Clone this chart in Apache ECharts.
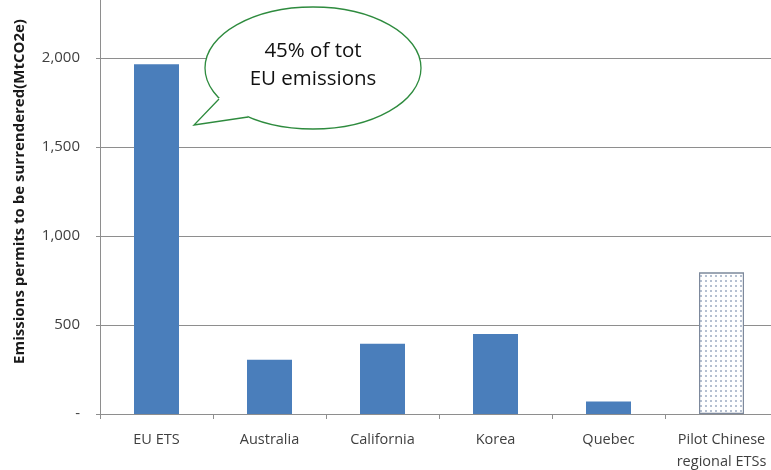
<!DOCTYPE html>
<html>
<head>
<meta charset="utf-8">
<script src="https://cdn.jsdelivr.net/npm/echarts@6/dist/echarts.min.js"></script>
<style>
html,body{margin:0;padding:0;background:#fff;}
#chart{width:771px;height:470px;}
</style>
</head>
<body>
<div id="chart"></div>
<script>
const categories = ['EU ETS', 'Australia', 'California', 'Korea', 'Quebec', 'Pilot Chinese\nregional ETSs'];
const permits = [1965, 305, 395, 450, 70, 795];
const yTicks = [0, 500, 1000, 1500, 2000, 2500];
const yAxisName = 'Emissions permits to be surrendered(MtCO2e)';
const calloutText = '45% of tot\nEU emissions';

const FONT = '"Open Sans", "Liberation Sans", sans-serif';
const GRID_COLOR = '#8e8e8e';
const TEXT_COLOR = '#3f3f3f';

const barData = permits.map((v, i) => {
  if (i === permits.length - 1) {
    return {
      value: v,
      itemStyle: {
        color: '#ffffff',
        borderColor: '#7d899c',
        borderWidth: 1.2,
        decal: {
          symbol: 'rect',
          symbolSize: 1,
          dashArrayX: [1.4, 2.6],
          dashArrayY: [1.4, 2.6],
          color: '#b5c0d1',
          backgroundColor: '#ffffff'
        }
      }
    };
  }
  return { value: v };
});

const chart = echarts.init(document.getElementById('chart'), null, { renderer: 'canvas' });
chart.setOption({
  animation: false,
  backgroundColor: '#ffffff',
  grid: { left: 100, right: -7, top: -31, bottom: 56, containLabel: false, outerBoundsMode: 'none' },
  xAxis: {
    type: 'category',
    data: categories,
    axisLine: { lineStyle: { color: GRID_COLOR, width: 1 } },
    axisTick: { show: true, length: 5, lineStyle: { color: GRID_COLOR } },
    axisLabel: {
      color: TEXT_COLOR, fontFamily: FONT, fontSize: 14.5, margin: 15,
      lineHeight: 22, interval: 0
    }
  },
  yAxis: {
    type: 'value',
    min: yTicks[0],
    max: yTicks[yTicks.length - 1],
    interval: yTicks[1] - yTicks[0],
    name: yAxisName,
    nameLocation: 'middle',
    nameGap: 73,
    nameTextStyle: { color: '#1a1a1a', fontFamily: FONT, fontSize: 15, fontWeight: 'bold' },
    axisLine: { show: true, lineStyle: { color: GRID_COLOR, width: 1 } },
    axisTick: { show: true, length: 4, lineStyle: { color: GRID_COLOR } },
    splitLine: { show: true, lineStyle: { color: GRID_COLOR, width: 1 } },
    axisLabel: {
      color: TEXT_COLOR, fontFamily: FONT, fontSize: 15, margin: 20,
      formatter: v => v === 0 ? '-' : v.toLocaleString('en-US')
    }
  },
  series: [{
    type: 'bar',
    data: barData,
    barWidth: 45,
    itemStyle: { color: '#4a7ebb' },
    silent: true
  }],
  graphic: [
    {
      type: 'ellipse',
      shape: { cx: 313, cy: 68, rx: 108, ry: 61 },
      style: { fill: '#ffffff', stroke: '#2e8b3e', lineWidth: 1.3 },
      z: 100
    },
    {
      type: 'polygon',
      shape: { points: [[219, 98], [194, 125], [248, 117], [245, 105], [228, 98]] },
      style: { fill: '#ffffff', stroke: null },
      z: 101
    },
    {
      type: 'polyline',
      shape: { points: [[219, 99], [194, 125], [248, 117]] },
      style: { stroke: '#2e8b3e', lineWidth: 1.3, fill: null },
      z: 102
    },
    {
      type: 'text',
      x: 313, y: 65,
      style: {
        text: calloutText,
        fill: '#111111',
        font: '20.5px ' + FONT,
        lineHeight: 28,
        align: 'center',
        verticalAlign: 'middle'
      },
      z: 103
    }
  ]
});
</script>
</body>
</html>
